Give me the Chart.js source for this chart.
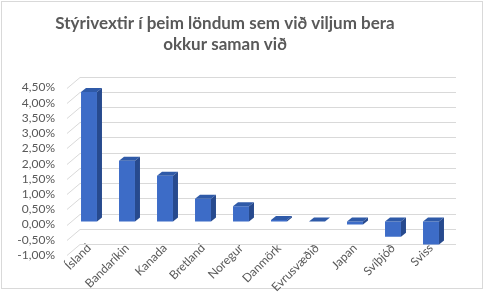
<!DOCTYPE html>
<html>
<head>
<meta charset="utf-8">
<script src="https://cdn.jsdelivr.net/npm/chart.js@4.4.1/dist/chart.umd.min.js"></script>
<style>
html,body{margin:0;padding:0;background:#fff;}
#wrap{width:485px;height:292px;position:relative;}
</style>
</head>
<body>
<div id="wrap"><canvas id="c" width="485" height="292"></canvas></div>
<script>
const categories = ["Ísland","Bandaríkin","Kanada","Bretland","Noregur","Danmörk","Evrusvæðið","Japan","Svíþjóð","Sviss"];
const rates = [4.25, 2.0, 1.5, 0.75, 0.5, 0.05, 0.0, -0.1, -0.5, -0.75];
const yTickValues = [-1.0,-0.5,0.0,0.5,1.0,1.5,2.0,2.5,3.0,3.5,4.0,4.5];
const yTickLabels = ["-1,00%","-0,50%","0,00%","0,50%","1,00%","1,50%","2,00%","2,50%","3,00%","3,50%","4,00%","4,50%"];
const titleLines = ["Stýrivextir í þeim löndum sem við viljum bera","okkur saman við"];

const DX = 5, DY = 4;

const framePlugin = {
  id: 'frame',
  beforeDraw(chart) {
    const ctx = chart.ctx;
    ctx.save();
    ctx.fillStyle = '#ffffff';
    ctx.fillRect(0, 0, chart.width, chart.height);
    ctx.strokeStyle = '#d9d9d9';
    ctx.lineWidth = 1;
    ctx.strokeRect(1.5, 1.5, 481, 287);
    ctx.restore();
  }
};

const gridPlugin = {
  id: 'grid3d',
  beforeDatasetsDraw(chart) {
    const ctx = chart.ctx;
    const ys = chart.scales.y;
    const area = chart.chartArea;
    ctx.save();
    ctx.strokeStyle = '#d9d9d9';
    ctx.lineWidth = 1;
    ys.ticks.forEach(t => {
      const y = Math.round(ys.getPixelForValue(t.value)) + 0.5;
      ctx.beginPath();
      ctx.moveTo(area.left - 3, y);
      ctx.lineTo(area.left + 10, y - 11);
      ctx.lineTo(area.right + 6, y - 11);
      ctx.stroke();
    });
    ctx.restore();
    ctx.save();
    ctx.translate(0, -3);
  },
  afterDatasetsDraw(chart) {
    const ctx = chart.ctx;
    const meta = chart.getDatasetMeta(0);
    meta.data.forEach((bar) => {
      const p = bar.getProps(['x','y','base','width'], true);
      const left = p.x - p.width / 2, right = p.x + p.width / 2;
      const top = Math.min(p.y, p.base), bottom = Math.max(p.y, p.base);
      ctx.fillStyle = '#2f5aa8';
      ctx.beginPath();
      ctx.moveTo(left, top);
      ctx.lineTo(right, top);
      ctx.lineTo(right + DX, top - DY);
      ctx.lineTo(left + DX, top - DY);
      ctx.closePath();
      ctx.fill();
      ctx.fillStyle = '#274a8e';
      ctx.beginPath();
      ctx.moveTo(right, top);
      ctx.lineTo(right + DX, top - DY);
      ctx.lineTo(right + DX, bottom - DY);
      ctx.lineTo(right, bottom);
      ctx.closePath();
      ctx.fill();
    });
    ctx.restore();
  }
};

new Chart(document.getElementById('c'), {
  type: 'bar',
  data: {
    labels: categories,
    datasets: [{
      data: rates,
      backgroundColor: '#3d6cc7',
      borderWidth: 0,
      barPercentage: 0.42,
      categoryPercentage: 1.0
    }]
  },
  options: {
    responsive: false,
    animation: false,
    events: [],
    layout: { padding: { left: 0, right: 35, top: 0, bottom: 0 } },
    plugins: {
      legend: { display: false },
      tooltip: { enabled: false },
      title: {
        display: true,
        text: titleLines,
        color: '#595959',
        font: { family: 'Lato', size: 17, weight: 'bold', lineHeight: 1.25 },
        padding: { top: 13, bottom: 32 }
      }
    },
    scales: {
      x: {
        grid: { display: false },
        border: { display: false },
        ticks: {
          autoSkip: false,
          maxRotation: 45,
          minRotation: 45,
          padding: -22,
          color: '#595959',
          font: { family: 'Lato', size: 12 }
        },
        afterFit(scale) {
          scale.height = 37;
          scale._computeLabelArea = () => undefined;
        }
      },
      y: {
        min: -1,
        max: 4.5,
        afterBuildTicks(scale) {
          scale.ticks = yTickValues.map(v => ({ value: v }));
        },
        grid: { display: false, drawTicks: false },
        border: { display: false },
        ticks: {
          autoSkip: false,
          padding: 15,
          color: '#595959',
          font: { family: 'Lato', size: 12 },
          callback(value) {
            const i = yTickValues.findIndex(v => Math.abs(v - value) < 1e-9);
            return i >= 0 ? yTickLabels[i] : '';
          }
        },
        afterFit(scale) { scale.width = 70; }
      }
    }
  },
  plugins: [framePlugin, gridPlugin]
});
</script>
</body>
</html>
